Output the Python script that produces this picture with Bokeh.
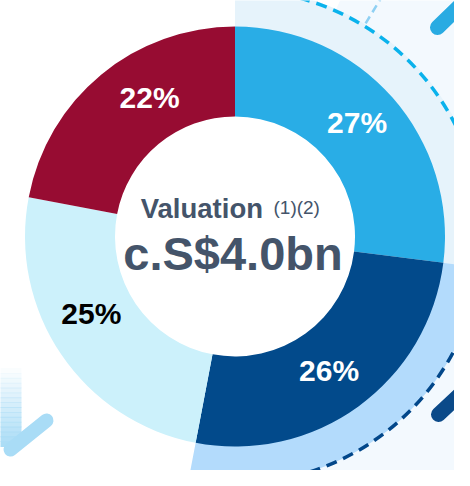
import math
from bokeh.plotting import figure
from bokeh.models import Range1d, ColumnDataSource
from bokeh.embed import file_html
from bokeh.resources import INLINE
from bokeh.core.properties import value

# ---- data ----
segments = ["Segment 1", "Segment 2", "Segment 3", "Segment 4"]
shares = [27, 26, 25, 22]
share_labels = ["27%", "26%", "25%", "22%"]
center_title = "Valuation"
center_note = "(1)(2)"
center_value = "c.S$4.0bn"

# ---- style ----
slice_colors = ["#29ade6", "#024a8b", "#ccf1fb", "#970c32"]
label_colors = ["#ffffff", "#ffffff", "#000000", "#ffffff"]
label_nudge_deg = [1.6, -1.0, -6.0, -8.0]   # small manual label placement tweaks
label_radius = [167, 164, 163, 163]
text_dark = "#44546a"
FONT = "Liberation Sans"

W, H = 454, 470
IMG_H = 486
cx, cy = 234.5, IMG_H - 236      # donut centre (y measured upward)
R_IN, R_OUT, R_BAND = 120, 210, 247

def yd(yi):
    return IMG_H - yi

p = figure(width=W, height=H, x_range=Range1d(0, W), y_range=Range1d(IMG_H - H, IMG_H),
           output_backend="svg", toolbar_location=None, min_border=0)
p.axis.visible = False
p.grid.visible = False
p.outline_line_color = None
p.background_fill_color = "#ffffff"
p.border_fill_color = "#ffffff"

# angles from shares (start at 12 o'clock, clockwise)
total = float(sum(shares))
starts, ends = [], []
acc = 0.0
for s in shares:
    starts.append(math.pi / 2 - 2 * math.pi * acc / total)
    acc += s
    ends.append(math.pi / 2 - 2 * math.pi * acc / total)
mids = [(a + b) / 2 for a, b in zip(starts, ends)]

# ---- background decorations ----
p.wedge(x=cx, y=cy, radius=430, start_angle=math.radians(66), end_angle=math.radians(-75),
        direction="clock", fill_color="#f3f9fe", line_color=None)
# bands behind the first two slices
p.annular_wedge(x=cx, y=cy, inner_radius=200, outer_radius=R_BAND + 2,
                start_angle=starts[0], end_angle=ends[0], direction="clock",
                fill_color="#e6f3fb", line_color=None)
p.annular_wedge(x=cx, y=cy, inner_radius=200, outer_radius=R_BAND,
                start_angle=starts[1], end_angle=ends[1], direction="clock",
                fill_color="#b3dbfc", line_color=None)
# thin radial dashed line
ang = math.radians(58.5)
p.segment(x0=cx + 250 * math.cos(ang), y0=cy + 250 * math.sin(ang),
          x1=cx + 300 * math.cos(ang), y1=cy + 300 * math.sin(ang),
          line_color="#8fd0f3", line_width=2.5, line_dash="8 5")
# dashed arcs
p.arc(x=cx, y=cy, radius=R_BAND, start_angle=starts[0] + math.radians(10), end_angle=ends[0],
      direction="clock", line_color="#0ab2ec", line_width=3.5, line_dash="11 7")
p.arc(x=cx, y=cy, radius=R_BAND, start_angle=starts[1], end_angle=ends[1] - math.radians(2),
      direction="clock", line_color="#02478a", line_width=3.5, line_dash="11 7")

# arrows with faded shafts
def faded_shaft(xl, xr, y_solid, y_fade, color, n=16):
    for k in range(n):
        t0 = k / n
        t1 = (k + 1) / n
        ya = y_solid + (y_fade - y_solid) * t0
        yb = y_solid + (y_fade - y_solid) * t1
        p.quad(left=xl, right=xr, top=max(yd(ya), yd(yb)) + 0.4, bottom=min(yd(ya), yd(yb)) - 0.4,
               fill_color=color, fill_alpha=1 - (t0 + t1) / 2 * 0.97, line_color=None)

# top-right cyan arrow
faded_shaft(455, 478, 8, 88, "#29abe2")
p.line(x=[437, 467], y=[yd(27), yd(-2)], line_color="#29abe2", line_width=15, line_cap="round")
# bottom-right navy arrow
faded_shaft(455, 478, 392, 478, "#0b4a89")
p.line(x=[438, 466], y=[yd(414), yd(388)], line_color="#0b4a89", line_width=15, line_cap="round")
p.quad(left=455, right=478, top=yd(385), bottom=yd(393), fill_color="#0b4a89", line_color=None)
# bottom-left light arrow (pointing down)
faded_shaft(-2, 21, 446, 368, "#a9dcf6")
p.line(x=[10, 46], y=[yd(449), yd(420)], line_color="#a9dcf6", line_width=14, line_cap="round")

# ---- donut ----
p.circle(x=cx, y=cy, radius=R_IN + 2, fill_color="#ffffff", line_color=None)
src = ColumnDataSource(dict(seg=segments, share=shares, start=starts, end=ends, color=slice_colors))
p.annular_wedge(x=cx, y=cy, inner_radius=R_IN, outer_radius=R_OUT, start_angle="start", end_angle="end",
                direction="clock", fill_color="color", line_color=None, source=src)

# percentage labels
lab_ang = [m + math.radians(n) for m, n in zip(mids, label_nudge_deg)]
lab = ColumnDataSource(dict(x=[cx + r * math.cos(a) for r, a in zip(label_radius, lab_ang)],
                            y=[cy + r * math.sin(a) for r, a in zip(label_radius, lab_ang)],
                            t=share_labels, c=label_colors))
p.text(x="x", y="y", text="t", text_color="c", source=lab, text_font=value(FONT),
       text_font_size=value("30px"), text_font_style="bold", text_align="center", text_baseline="middle")

# centre text
p.text(x=[cx + 28], y=[yd(208)], text=[center_title], text_font=value(FONT), text_font_size=value("27.5px"),
       text_font_style="bold", text_color=text_dark, text_align="right", text_baseline="middle")
p.text(x=[cx + 38.5], y=[yd(207)], text=[center_note], text_font=value(FONT), text_font_size=value("19px"),
       text_font_style="normal", text_color=text_dark, text_align="left", text_baseline="middle")
p.text(x=[cx - 2], y=[yd(253)], text=[center_value], text_font=value(FONT), text_font_size=value("47px"),
       text_font_style="bold", text_color=text_dark, text_align="center", text_baseline="middle")

open("out.html", "w").write(file_html(p, INLINE))
